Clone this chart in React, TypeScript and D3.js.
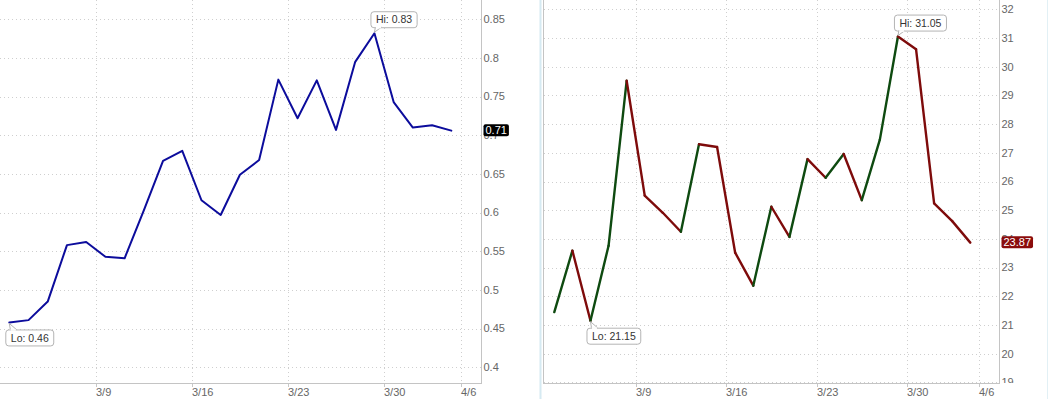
import React from "react";
import * as d3 from "d3";

const tradingDays = [
  "3/2", "3/3", "3/4", "3/5", "3/6",
  "3/9", "3/10", "3/11", "3/12", "3/13",
  "3/16", "3/17", "3/18", "3/19", "3/20",
  "3/23", "3/24", "3/25", "3/26", "3/27",
  "3/30", "3/31", "4/1", "4/2", "4/6",
];
const tickDates = ["3/9", "3/16", "3/23", "3/30", "4/6"];

const leftValues = [
  0.458, 0.461, 0.485, 0.558, 0.562, 0.543, 0.541, 0.603, 0.667, 0.680,
  0.616, 0.597, 0.649, 0.668, 0.772, 0.722, 0.771, 0.707, 0.795, 0.832,
  0.743, 0.710, 0.713, 0.706,
];
const leftTicks = [0.4, 0.45, 0.5, 0.55, 0.6, 0.65, 0.7, 0.75, 0.8, 0.85];

const rightValues = [
  21.45, 23.59, 21.15, 23.76, 29.51, 25.51, 24.91, 24.25, 27.30, 27.20,
  23.52, 22.37, 25.12, 24.07, 26.78, 26.13, 26.96, 25.35, 27.46, 31.05,
  30.61, 25.24, 24.62, 23.87,
];
const rightTicks = [19, 20, 21, 22, 23, 24, 25, 26, 27, 28, 29, 30, 31, 32];

const FONT = "'Liberation Sans', Arial, Helvetica, sans-serif";

let ctx: CanvasRenderingContext2D | null = null;
function textWidth(t: string, size: number) {
  if (!ctx) {
    const c = document.createElement("canvas");
    ctx = c.getContext("2d");
  }
  if (!ctx) return t.length * size * 0.55;
  ctx.font = `${size}px ${FONT}`;
  return ctx.measureText(t).width;
}

type PanelProps = {
  id: string;
  values: number[];
  ticks: number[];
  yDomain: [number, number];
  yRange: [number, number];
  xRange: [number, number];
  left: number;
  axisX: number;
  bottom: number;
  decimals: number;
  mode: "blue" | "updown";
  badgeFill: string;
};

function Callout({ px, py, text, above }: { px: number; py: number; text: string; above: boolean }) {
  const fs = 10.5;
  const w = textWidth(text, fs) + 10;
  const h = 16;
  const bx = px - 4;
  const by = above ? py - 6 - h : py + 7;
  const baseY = above ? by + h : by;
  const ptr = `M${px + 1},${baseY} L${px},${py + (above ? -1 : 1)} L${px + 7},${baseY}`;
  return (
    <g>
      <rect x={bx + 0.5} y={by + 0.5} width={w} height={h} rx={3} ry={3} fill="#fff" stroke="#b4b4b4" />
      <path d={ptr} fill="#fff" stroke="#b4b4b4" strokeWidth={1} />
      <line x1={px + 1.5} x2={px + 6.5} y1={baseY + 0.5} y2={baseY + 0.5} stroke="#fff" strokeWidth={1.5} />
      <text x={bx + 0.5 + w / 2} y={by + 0.5 + h / 2} dy="0.35em" textAnchor="middle" fontSize={fs} fill="#333" fontFamily={FONT}>
        {text}
      </text>
    </g>
  );
}

function Panel(p: PanelProps) {
  const x = d3.scaleLinear().domain([0, p.values.length - 1]).range(p.xRange);
  const y = d3.scaleLinear().domain(p.yDomain).range(p.yRange);
  const line = d3.line<number>().x((_, i) => x(i)).y((d) => y(d));
  const grid = "#cfcfcf";
  const minV = d3.min(p.values) as number;
  const maxV = d3.max(p.values) as number;
  const iMin = p.values.indexOf(minV);
  const iMax = p.values.indexOf(maxV);
  const last = p.values[p.values.length - 1];
  const lastTxt = last.toFixed(p.decimals);
  const bw = textWidth(lastTxt, 11) + 4;
  const clipId = `clip-${p.id}`;
  return (
    <g>
      <defs>
        <clipPath id={clipId}>
          <rect x={p.left} y={0} width={600} height={p.bottom} />
        </clipPath>
      </defs>
      {/* horizontal grid */}
      {p.ticks.map((t) => (
        <line key={`h${t}`} x1={p.left} x2={p.axisX} y1={Math.round(y(t)) + 0.5} y2={Math.round(y(t)) + 0.5}
          stroke={grid} strokeDasharray="1,3" />
      ))}
      {/* vertical grid + date labels */}
      {tickDates.map((d) => {
        const idx = tradingDays.indexOf(d);
        const gx = Math.round(x(idx - 0.5)) + 0.5;
        return (
          <g key={`v${d}`}>
            <line x1={gx} x2={gx} y1={0} y2={p.bottom} stroke={grid} strokeDasharray="1,3" />
            <line x1={gx} x2={gx} y1={p.bottom} y2={p.bottom + 4} stroke="#c8c8c8" />
            <text x={gx - 0.5} y={p.bottom + 9} dy="0.35em" fontSize={11} fill="#666" fontFamily={FONT}>{d}</text>
          </g>
        );
      })}
      {/* axes */}
      <line x1={p.left} x2={p.axisX} y1={p.bottom + 0.5} y2={p.bottom + 0.5} stroke="#c4c4c4" />
      <line x1={p.axisX + 0.5} x2={p.axisX + 0.5} y1={0} y2={p.bottom + 1} stroke="#c4c4c4" />
      <g clipPath={`url(#${clipId})`}>
        {p.ticks.map((t) => (
          <text key={`t${t}`} x={p.axisX + 2.5} y={y(t)} dy="0.35em" fontSize={11} fill="#666" fontFamily={FONT}>
            {String(+t.toFixed(2))}
          </text>
        ))}
      </g>
      {/* series */}
      {p.mode === "blue" ? (
        <path d={line(p.values) || ""} fill="none" stroke="#0c0c9c" strokeWidth={2} strokeLinejoin="round" strokeLinecap="round" />
      ) : (
        p.values.slice(1).map((v, i) => (
          <line key={`s${i}`} x1={x(i)} y1={y(p.values[i])} x2={x(i + 1)} y2={y(v)}
            stroke={v > p.values[i] ? "#0e4a10" : "#7e0b0b"} strokeWidth={2.4} strokeLinecap="round" />
        ))
      )}
      {/* callouts */}
      <Callout px={x(iMax)} py={y(maxV)} text={`Hi: ${maxV.toFixed(2)}`} above={true} />
      <Callout px={x(iMin)} py={y(minV)} text={`Lo: ${minV.toFixed(2)}`} above={false} />
      {/* last value badge */}
      <g>
        <rect x={p.axisX + 2.5} y={y(last) - 6.5} width={bw} height={12} rx={2} ry={2} fill={p.badgeFill} />
        <text x={p.axisX + 2.5 + bw / 2} y={y(last) - 0.5} dy="0.35em" textAnchor="middle" fontSize={11} fill="#fff" fontFamily={FONT}>
          {lastTxt}
        </text>
      </g>
    </g>
  );
}

export default function App() {
  return (
    <svg width={1050} height={399} style={{ position: "absolute", left: 0, top: 0, background: "#fff" }}>
      <rect x={0} y={0} width={1050} height={399} fill="#fff" />
      <Panel
        id="l"
        values={leftValues}
        ticks={leftTicks}
        yDomain={[0.4, 0.85]}
        yRange={[367.3, 19.3]}
        xRange={[9.3, 451.3]}
        left={0}
        axisX={481}
        bottom={383}
        decimals={2}
        mode="blue"
        badgeFill="#000"
      />
      <line x1={540.5} x2={540.5} y1={0} y2={399} stroke="#d6eaf2" strokeWidth={2} />
      <line x1={543.5} x2={543.5} y1={0} y2={384} stroke="#c4c4c4" />
      <Panel
        id="r"
        values={rightValues}
        ticks={rightTicks}
        yDomain={[19, 32]}
        yRange={[382.4, 9.3]}
        xRange={[554.3, 970.3]}
        left={544}
        axisX={999}
        bottom={383}
        decimals={2}
        mode="updown"
        badgeFill="#8a0c0c"
      />
      <line x1={1047.5} x2={1047.5} y1={0} y2={399} stroke="#e2f0f5" strokeWidth={1} />
    </svg>
  );
}
